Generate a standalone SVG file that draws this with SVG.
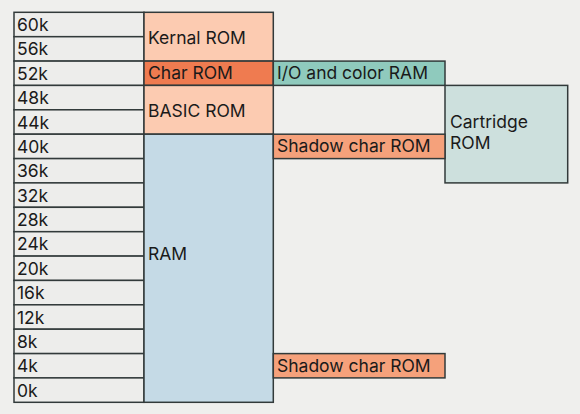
<svg xmlns="http://www.w3.org/2000/svg" width="580" height="414" viewBox="0 0 580 414">
<style>
.b{stroke:#323a3a;stroke-width:1.5}
.addr{fill:#ededeb}
.t{font-family:Inter,"Liberation Sans",sans-serif;font-size:17.5px;fill:#1a1a1a}
.rom{fill:#fccbb1}
.char{fill:#ef7b50}
.io{fill:#8fcabd}
.shadow{fill:#f5a17b}
.cart{fill:#cde0dd}
.ram{fill:#c5dae6}
</style>
<rect width="580" height="414" fill="#efefed"/>
<g id="addresses">
<rect class="b addr" x="14" y="12.3" width="130" height="24.4"/><text class="t" x="17" y="31">60k</text>
<rect class="b addr" x="14" y="36.7" width="130" height="24.4"/><text class="t" x="17" y="55.4">56k</text>
<rect class="b addr" x="14" y="61.1" width="130" height="24.4"/><text class="t" x="17" y="79.8">52k</text>
<rect class="b addr" x="14" y="85.4" width="130" height="24.4"/><text class="t" x="17" y="104.1">48k</text>
<rect class="b addr" x="14" y="109.8" width="130" height="24.4"/><text class="t" x="17" y="128.5">44k</text>
<rect class="b addr" x="14" y="134.2" width="130" height="24.4"/><text class="t" x="17" y="152.9">40k</text>
<rect class="b addr" x="14" y="158.6" width="130" height="24.4"/><text class="t" x="17" y="177.3">36k</text>
<rect class="b addr" x="14" y="182.9" width="130" height="24.4"/><text class="t" x="17" y="201.6">32k</text>
<rect class="b addr" x="14" y="207.3" width="130" height="24.4"/><text class="t" x="17" y="226">28k</text>
<rect class="b addr" x="14" y="231.7" width="130" height="24.4"/><text class="t" x="17" y="250.4">24k</text>
<rect class="b addr" x="14" y="256.1" width="130" height="24.4"/><text class="t" x="17" y="274.8">20k</text>
<rect class="b addr" x="14" y="280.4" width="130" height="24.4"/><text class="t" x="17" y="299.1">16k</text>
<rect class="b addr" x="14" y="304.8" width="130" height="24.4"/><text class="t" x="17" y="323.5">12k</text>
<rect class="b addr" x="14" y="329.2" width="130" height="24.4"/><text class="t" x="17" y="347.9">8k</text>
<rect class="b addr" x="14" y="353.6" width="130" height="24.4"/><text class="t" x="17" y="372.3">4k</text>
<rect class="b addr" x="14" y="377.9" width="130" height="24.4"/><text class="t" x="17" y="396.6">0k</text>
</g>
<g id="kernal-rom"><rect class="b rom" x="144" y="12.3" width="129.3" height="48.8"/><text class="t" x="148" y="44">Kernal ROM</text></g>
<g id="char-rom"><rect class="b char" x="144" y="61.1" width="129.3" height="24.3"/><text class="t" x="148" y="79">Char ROM</text></g>
<g id="basic-rom"><rect class="b rom" x="144" y="85.4" width="129.3" height="48.8"/><text class="t" x="148" y="116.5">BASIC ROM</text></g>
<g id="ram"><rect class="b ram" x="144" y="134.2" width="129.3" height="268.1"/><text class="t" x="148" y="260">RAM</text></g>
<g id="io-color-ram"><rect class="b io" x="273.3" y="61.1" width="171.7" height="24.3"/><text class="t" x="277" y="79">I/O and color RAM</text></g>
<g id="cartridge-rom"><rect class="b cart" x="445" y="85.4" width="122.7" height="97.5"/><text class="t" x="450" y="128">Cartridge<tspan x="450" dy="21">ROM</tspan></text></g>
<g id="shadow-char-rom-1"><rect class="b shadow" x="273.3" y="134.2" width="171.7" height="24.4"/><text class="t" x="277" y="152.4">Shadow char ROM</text></g>
<g id="shadow-char-rom-2"><rect class="b shadow" x="273.3" y="353.6" width="171.7" height="24.3"/><text class="t" x="277" y="371.6">Shadow char ROM</text></g>
<g id="connectors"></g>
</svg>
